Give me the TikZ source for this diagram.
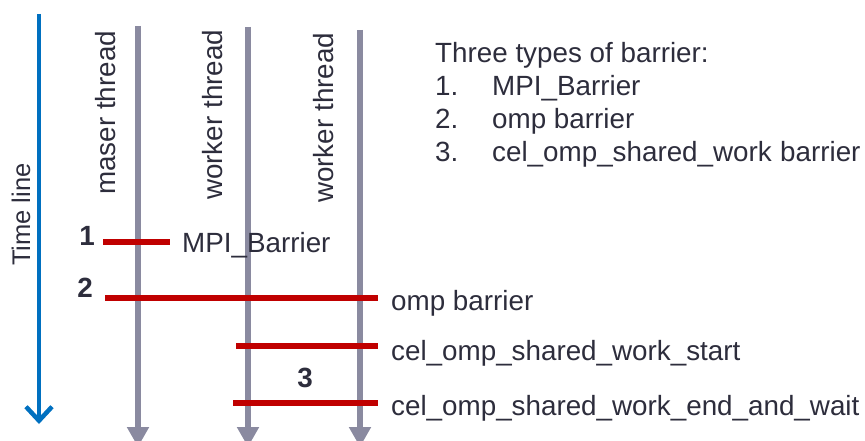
\documentclass[tikz,border=0pt]{standalone}
\usepackage{fontspec}
\setmainfont{Liberation Sans}
\usetikzlibrary{arrows.meta}
\definecolor{timeblue}{RGB}{0,112,192}
\definecolor{threadgray}{RGB}{138,138,160}
\definecolor{barred}{RGB}{192,0,0}
\definecolor{txt}{RGB}{45,45,60}
\tikzset{
  lbl/.style={inner sep=0pt, text=txt, font=\fontsize{27.8}{33}\selectfont},
  numlbl/.style={inner sep=0pt, text=txt, font=\fontsize{27.8}{33}\selectfont\bfseries, anchor=base},
  vlbl/.style={lbl, rotate=90, anchor=base west},
  thread/.style={line width=5.5pt, draw=threadgray, -{Triangle[length=20pt,width=21pt]}},
  timeline/.style={line width=4pt, draw=timeblue, -{Straight Barb[length=14pt,width=26pt,line width=4.5pt]}},
  barline/.style={line width=6pt, draw=barred},
}
\begin{document}
\begin{tikzpicture}[x=1pt,y=-1pt]
\useasboundingbox (0,0) rectangle (865,441);
\clip (0,0) rectangle (865,441);

% time axis
\coordinate (t0) at (39,14);
\coordinate (t1) at (39,424);
\draw[timeline] (t0) -- (t1);
\node[vlbl, font=\fontsize{25.5}{30}\selectfont] (tlab) at (30,266) {Time line};

% threads
\coordinate (m0) at (138,26);  \coordinate (m1) at (138,447);
\coordinate (w0) at (248,27);  \coordinate (w1) at (248,447);
\coordinate (v0) at (360,30);  \coordinate (v1) at (360,447);
\draw[thread] (m0) -- (m1);
\draw[thread] (w0) -- (w1);
\draw[thread] (v0) -- (v1);
\node[vlbl] (mlab) at (115,195) {maser thread};
\node[vlbl] (wlab) at (222,200) {worker thread};
\node[vlbl] (vlab) at (333,203) {worker thread};

% barriers
\coordinate (b1a) at (103,242); \coordinate (b1b) at (170,242);
\coordinate (b2a) at (105,298); \coordinate (b2b) at (378,298);
\coordinate (b3a) at (236,346); \coordinate (b3b) at (378,346);
\coordinate (b4a) at (233,403); \coordinate (b4b) at (378,403);
\draw[barline] (b1a) -- (b1b);
\draw[barline] (b2a) -- (b2b);
\draw[barline] (b3a) -- (b3b);
\draw[barline] (b4a) -- (b4b);

\node[lbl, anchor=base west] (l1) at (182,252) {MPI\_Barrier};
\node[lbl, anchor=base west] (l2) at (391,310) {omp barrier};
\node[lbl, anchor=base west] (l3) at (391,360) {cel\_omp\_shared\_work\_start};
\node[lbl, anchor=base west] (l4) at (391,415) {cel\_omp\_shared\_work\_end\_and\_wait};

\node[numlbl] (n1) at (87,245) {1};
\node[numlbl] (n2) at (85,297) {2};
\node[numlbl] (n3) at (305,387) {3};

% legend
\node[lbl, anchor=base west] (lt) at (435,63) {Three types of barrier:};
\node[lbl, anchor=base west] (k1) at (435,96) {1.};
\node[lbl, anchor=base west] (i1) at (492,96) {MPI\_Barrier};
\node[lbl, anchor=base west] (k2) at (435,129) {2.};
\node[lbl, anchor=base west] (i2) at (492,129) {omp barrier};
\node[lbl, anchor=base west] (k3) at (435,162) {3.};
\node[lbl, anchor=base west] (i3) at (492,162) {cel\_omp\_shared\_work\hspace{0.3em}barrier};
\end{tikzpicture}
\end{document}
